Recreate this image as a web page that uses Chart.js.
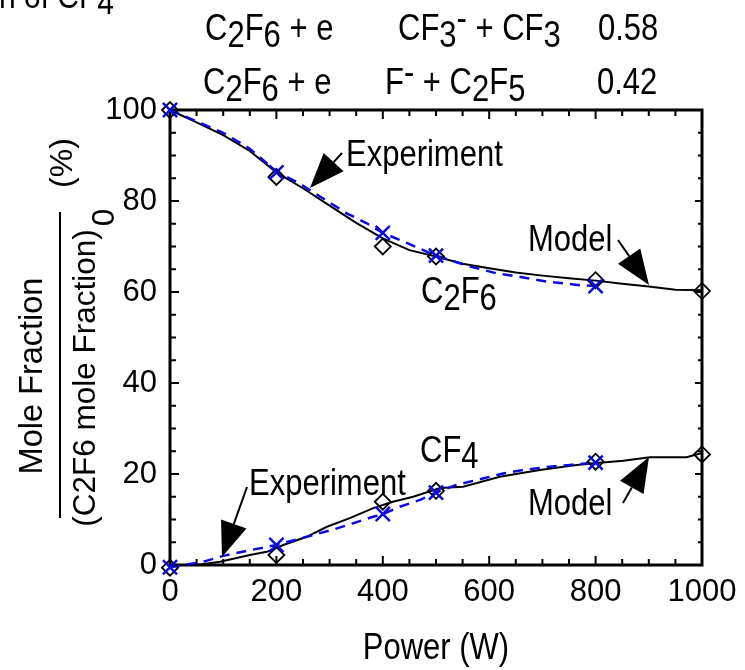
<!DOCTYPE html>
<html>
<head>
<meta charset="utf-8">
<script src="https://cdn.jsdelivr.net/npm/chart.js@4.4.1/dist/chart.umd.min.js"></script>
<style>
  html, body { margin: 0; padding: 0; background: #fff; }
  #wrap { width: 745px; height: 670px; }
</style>
</head>
<body>
<div id="wrap"><canvas id="chart" width="745" height="670"></canvas></div>
<script>
// Values
var xTicks = [0, 200, 400, 600, 800, 1000];
var yTicks = [0, 20, 40, 60, 80, 100];

// C2F6 - model (solid black line + diamonds)
var c2f6ModelX = [0, 50, 100, 150, 200, 250, 300, 350, 400, 450, 500, 550, 600, 650, 700, 750, 800, 850, 900, 950, 1000];
var c2f6ModelY = [100, 97.3, 94.5, 91, 86.3, 82.8, 79, 75.2, 71.8, 69.2, 67.8, 66.2, 65.2, 64.3, 63.6, 63, 62.5, 61.8, 61.2, 60.5, 60.4];
var c2f6DiamondX = [0, 200, 400, 500, 800, 1000];
var c2f6DiamondY = [100, 85.3, 70, 67.8, 62.6, 60.2];

// C2F6 - experiment (dashed blue line + crosses)
var c2f6ExpX = [0, 50, 100, 150, 200, 244, 282, 332, 370, 400, 445, 500, 564, 614, 664, 708, 771, 800];
var c2f6ExpY = [100, 97.5, 95, 91.5, 86.5, 83.8, 81, 77.3, 75.1, 73, 70.8, 68, 65.6, 64.1, 63.2, 62.3, 61.5, 61.3];
var c2f6CrossX = [0, 200, 400, 500, 800];
var c2f6CrossY = [100, 86.3, 73, 68, 61.3];

// CF4 - model
var cf4ModelX = [0, 50, 94, 150, 182, 213, 257, 295, 338, 382, 419, 457, 508, 551, 620, 695, 764, 802, 852, 902, 971, 996, 1000];
var cf4ModelY = [0, 0, 0.7, 2.2, 2.9, 4.4, 6.2, 8.4, 10.3, 12.5, 13.9, 15, 16.9, 17.2, 19.4, 20.9, 22, 22.4, 22.9, 23.7, 23.7, 24.5, 24.5];
var cf4DiamondX = [0, 200, 400, 500, 800, 1000];
var cf4DiamondY = [-0.6, 2.2, 13.9, 16.3, 22.7, 24.3];

// CF4 - experiment
var cf4ExpX = [0, 62, 100, 144, 200, 238, 269, 307, 345, 382, 400, 432, 470, 500, 538, 588, 626, 664, 714, 752, 800];
var cf4ExpY = [-0.5, 0.7, 2, 3.1, 4.4, 5.6, 6.6, 7.8, 9.2, 10.6, 11.2, 12.8, 14.3, 15.9, 17.6, 19, 20.1, 20.9, 21.6, 22, 22.5];
var cf4CrossX = [0, 200, 400, 500, 800];
var cf4CrossY = [-0.5, 4.4, 11.2, 15.9, 22.5];

var FONT = '"Liberation Sans", Arial, sans-serif';
var BLUE = '#0a0ae0';
var STRETCH = 1.18;   // the figure's lettering is taller than it is wide

function hasFont(name) {
  var c = document.createElement('canvas').getContext('2d');
  c.font = '40px monospace';
  var a = c.measureText('Experiment 1000').width;
  c.font = '40px "' + name + '", monospace';
  return a !== c.measureText('Experiment 1000').width;
}
var narrow = hasFont('Liberation Sans Narrow');
var tickFont = narrow ? { size: 36, family: '"Liberation Sans Narrow", ' + FONT } : { size: 31, family: FONT };

function pts(xs, ys) {
  return xs.map(function (x, i) { return { x: x, y: ys[i] }; });
}

function lineSet(xs, ys, color, dash, width) {
  return {
    data: pts(xs, ys), showLine: true, borderColor: color, borderWidth: width,
    borderDash: dash, pointRadius: 0, pointHoverRadius: 0, tension: 0, fill: false, clip: false
  };
}

function markSet(xs, ys, style, radius, color, width) {
  return {
    data: pts(xs, ys), showLine: false, pointStyle: style, pointRadius: radius,
    pointHoverRadius: radius, borderColor: color, borderWidth: width,
    backgroundColor: 'rgba(0,0,0,0)', clip: false
  };
}

// text with sub/superscripts, stretched vertically: parts = [[text, dy], ...]
function rich(ctx, parts, x, y, align) {
  ctx.save();
  ctx.translate(x, y);
  ctx.scale(1, STRETCH);
  var total = 0;
  parts.forEach(function (p) { total += ctx.measureText(p[0]).width; });
  var cx = align === 'center' ? -total / 2 : 0;
  ctx.textAlign = 'left';
  parts.forEach(function (p) {
    ctx.fillText(p[0], cx, p[1] / STRETCH);
    cx += ctx.measureText(p[0]).width;
  });
  ctx.restore();
}

function arrow(ctx, x1, y1, x2, y2) {
  var L = 35, W = 27;
  var dx = x2 - x1, dy = y2 - y1, len = Math.sqrt(dx * dx + dy * dy);
  var ux = dx / len, uy = dy / len;
  var bx = x2 - ux * L, by = y2 - uy * L;
  ctx.lineWidth = 2;
  ctx.beginPath(); ctx.moveTo(x1, y1); ctx.lineTo(bx, by); ctx.stroke();
  ctx.beginPath();
  ctx.moveTo(x2, y2);
  ctx.lineTo(bx - uy * W / 2, by + ux * W / 2);
  ctx.lineTo(bx + uy * W / 2, by - ux * W / 2);
  ctx.closePath(); ctx.fill();
}

var framePlugin = {
  id: 'frame',
  beforeDatasetsDraw: function (chart) {
    var ctx = chart.ctx, a = chart.chartArea;
    var sx = chart.scales.x, sy = chart.scales.y;
    ctx.save();
    ctx.strokeStyle = '#000';
    ctx.lineWidth = 2;
    var v, p, len;
    for (v = 0; v <= 1000; v += 50) {
      p = sx.getPixelForValue(v);
      len = v % 200 === 0 ? 9 : 6;
      ctx.beginPath();
      ctx.moveTo(p, a.bottom); ctx.lineTo(p, a.bottom - len);
      ctx.moveTo(p, a.top); ctx.lineTo(p, a.top + len);
      ctx.stroke();
    }
    for (v = 0; v <= 100; v += 5) {
      p = sy.getPixelForValue(v);
      len = v % 20 === 0 ? 9 : 6;
      ctx.beginPath();
      ctx.moveTo(a.left, p); ctx.lineTo(a.left + len, p);
      ctx.moveTo(a.right, p); ctx.lineTo(a.right - len + 2, p);
      ctx.stroke();
    }
    ctx.lineWidth = 3;
    ctx.strokeRect(a.left, a.top, a.right - a.left, a.bottom - a.top);
    ctx.restore();
  },
  afterDraw: function (chart) {
    var ctx = chart.ctx;
    ctx.save();
    ctx.fillStyle = '#000';
    ctx.strokeStyle = '#000';
    ctx.textBaseline = 'alphabetic';
    ctx.font = '30px ' + FONT;

    // cropped title fragment
    rich(ctx, [['n of CF', 0], ['4', 6]], -1, 8);

    // reaction lines
    ctx.font = '31px ' + FONT;
    rich(ctx, [['C', 0], ['2', 7], ['F', 0], ['6', 7], [' + e', 0]], 205, 40);
    rich(ctx, [['CF', 0], ['3', 7], ['-', -10], [' + CF', 0], ['3', 7]], 398, 40);
    rich(ctx, [['0.58', 0]], 598, 40);
    rich(ctx, [['C', 0], ['2', 7], ['F', 0], ['6', 7], [' + e', 0]], 203, 94);
    rich(ctx, [['F', 0], ['-', -10], [' + C', 0], ['2', 7], ['F', 0], ['5', 7]], 385, 94);
    rich(ctx, [['0.42', 0]], 597, 94);

    // annotations
    rich(ctx, [['Experiment', 0]], 346, 166);
    rich(ctx, [['Model', 0]], 528, 251);
    rich(ctx, [['Experiment', 0]], 249, 495);
    rich(ctx, [['Model', 0]], 528, 515);
    rich(ctx, [['C', 0], ['2', 7], ['F', 0], ['6', 7]], 421, 303);
    rich(ctx, [['CF', 0], ['4', 6]], 420, 462);

    arrow(ctx, 342, 153, 310, 188);
    arrow(ctx, 618, 240, 649, 285);
    arrow(ctx, 247, 487, 222, 557);
    arrow(ctx, 623, 503, 649, 457);

    // x title
    rich(ctx, [['Power (W)', 0]], 436, 659, 'center');

    // y title (rotated fraction)
    ctx.font = '32.5px ' + FONT;
    ctx.save();
    ctx.translate(42, 376);
    ctx.rotate(-Math.PI / 2);
    ctx.textAlign = 'center';
    ctx.fillText('Mole Fraction', 0, 0);
    ctx.restore();

    ctx.font = '31.5px ' + FONT;
    ctx.save();
    ctx.translate(95, 378);
    ctx.rotate(-Math.PI / 2);
    var main = '(C2F6 mole Fraction)';
    var w = ctx.measureText(main).width;
    ctx.textAlign = 'left';
    ctx.fillText(main, -w / 2, 0);
    ctx.fillText('0', w / 2 + 3, 19);
    ctx.restore();

    ctx.font = '32px ' + FONT;
    ctx.save();
    ctx.translate(72, 163);
    ctx.rotate(-Math.PI / 2);
    ctx.textAlign = 'center';
    ctx.fillText('(%)', 0, 0);
    ctx.restore();

    ctx.lineWidth = 2;
    ctx.beginPath(); ctx.moveTo(60, 212); ctx.lineTo(60, 518); ctx.stroke();
    ctx.restore();
  }
};

new Chart(document.getElementById('chart'), {
  type: 'scatter',
  data: {
    datasets: [
      markSet(c2f6CrossX, c2f6CrossY, 'crossRot', 10, BLUE, 2.5),
      markSet(cf4CrossX, cf4CrossY, 'crossRot', 10, BLUE, 2.5),
      markSet(c2f6DiamondX, c2f6DiamondY, 'rectRot', 8, '#000', 1.8),
      markSet(cf4DiamondX, cf4DiamondY, 'rectRot', 8, '#000', 1.8),
      lineSet(c2f6ExpX, c2f6ExpY, BLUE, [10, 7], 2.5),
      lineSet(cf4ExpX, cf4ExpY, BLUE, [10, 7], 2.5),
      lineSet(c2f6ModelX, c2f6ModelY, '#000', [], 2),
      lineSet(cf4ModelX, cf4ModelY, '#000', [], 2)
    ]
  },
  options: {
    responsive: false,
    animation: false,
    layout: { padding: { left: 0, right: 43, top: 110, bottom: 0 } },
    plugins: { legend: { display: false }, tooltip: { enabled: false } },
    scales: {
      x: {
        type: 'linear', min: 0, max: 1000,
        grid: { display: false, drawTicks: false },
        border: { display: false },
        afterBuildTicks: function (s) { s.ticks = xTicks.map(function (v) { return { value: v }; }); },
        ticks: {
          color: '#000', padding: 9, maxRotation: 0, autoSkip: false,
          font: tickFont,
          callback: function (v) { return String(v); }
        },
        afterFit: function (s) { s.height = 105; s.paddingLeft = 0; s.paddingRight = 0; }
      },
      y: {
        type: 'linear', min: 0, max: 100,
        grid: { display: false, drawTicks: false },
        border: { display: false },
        afterBuildTicks: function (s) { s.ticks = yTicks.map(function (v) { return { value: v }; }); },
        ticks: {
          color: '#000', padding: 13, autoSkip: false,
          font: tickFont,
          callback: function (v) { return String(v); }
        },
        afterFit: function (s) { s.width = 170; s.paddingTop = 0; s.paddingBottom = 0; }
      }
    }
  },
  plugins: [framePlugin]
});
</script>
</body>
</html>
